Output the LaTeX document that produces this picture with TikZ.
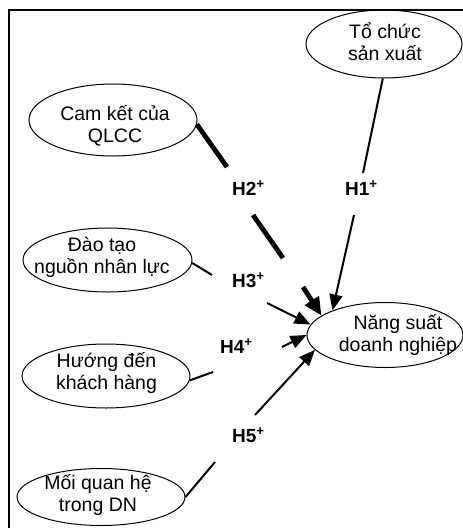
\documentclass[tikz,border=0pt]{standalone}
\usepackage{fontspec}
\setmainfont{Liberation Sans}
\usetikzlibrary{arrows.meta,shapes.geometric}
\newcommand\es{\rule[-4pt]{0pt}{20pt}}
\begin{document}
\begin{tikzpicture}[x=1pt,y=-1pt,
  ell/.style={draw,ellipse,line width=1pt,inner sep=0pt},
  etext/.style={align=center,font=\fontsize{19.5}{22}\selectfont,inner sep=0pt},
  lab/.style={font=\fontsize{19}{20}\selectfont\bfseries,inner sep=0pt,anchor=base west},
  conn/.style={line width=2pt},
  thickconn/.style={line width=4.8pt},
  arr/.style={-{Triangle[length=16pt,width=13pt]}},
  bigarr/.style={-{Triangle[length=18pt,width=16pt]}},
]
\useasboundingbox (0,0) rectangle (463,528);
% frame
\draw[line width=2pt] (8.5,530) -- (8.5,10) -- (465,10);

% ellipses
\node[ell,minimum width=156pt,minimum height=68pt] (ts) at (384,44) {};
\node[ell,minimum width=168pt,minimum height=72pt] (ck) at (113,120) {};
\node[ell,minimum width=169pt,minimum height=64pt] (dt) at (107.5,260) {};
\node[ell,minimum width=168pt,minimum height=64pt] (hd) at (106,376) {};
\node[ell,minimum width=168pt,minimum height=57pt] (mq) at (101,497) {};
\node[ell,minimum width=156pt,minimum height=65pt] (ns) at (385,335) {};

% texts
\node[etext] (tst) at (385,43.3) {\es Tổ chức\\\es sản xuất};
\node[etext] (ckt) at (115,125) {\es Cam kết của\\\es QLCC};
\node[etext] (dtt) at (102,257) {\es Đào tạo\\\es nguồn nhân lực};
\node[etext] (hdt) at (106.5,373) {\es Hướng đến\\\es khách hàng};
\node[etext] (mqt) at (98,495) {\es Mối quan hệ\\\es trong DN};
\node[etext] (nst) at (398,335) {\es Năng suất\\\es doanh nghiệp};

% labels
\node[lab] (l1) at (345,195) {H1\textsuperscript{+}};
\node[lab] (l2) at (232,195) {H2\textsuperscript{+}};
\node[lab] (l3) at (232,287) {H3\textsuperscript{+}};
\node[lab] (l4) at (220,353) {H4\textsuperscript{+}};
\node[lab] (l5) at (232,442) {H5\textsuperscript{+}};

% break points
\coordinate (h1a) at (363,173);
\coordinate (h1b) at (354,215);
\coordinate (h2a) at (227,167);
\coordinate (h2b) at (253,215);
\coordinate (h2c) at (283,258);
\coordinate (h2d) at (303,287);
\coordinate (h3a) at (212,275);
\coordinate (h3b) at (267,303);
\coordinate (h4a) at (213,372);
\coordinate (h4b) at (282,347);
\coordinate (h5a) at (215,462);
\coordinate (h5b) at (255,415);

% connectors
\draw[conn] (ts.-92) -- (h1a);
\draw[conn,arr] (h1b) -- (ns.155);
\draw[thickconn] (ck.-3) -- (h2a);
\draw[thickconn] (h2b) -- (h2c);
\draw[thickconn,bigarr] (h2d) -- (ns.163);
\draw[conn] (dt.-2) -- (h3a);
\draw[conn,arr] (h3b) -- (ns.172);
\draw[conn] (hd.-3) -- (h4a);
\draw[conn,arr] (h4b) -- (ns.180);
\draw[conn] (mq.0) -- (h5a);
\draw[conn,arr] (h5b) -- (ns.192);
\end{tikzpicture}
\end{document}
